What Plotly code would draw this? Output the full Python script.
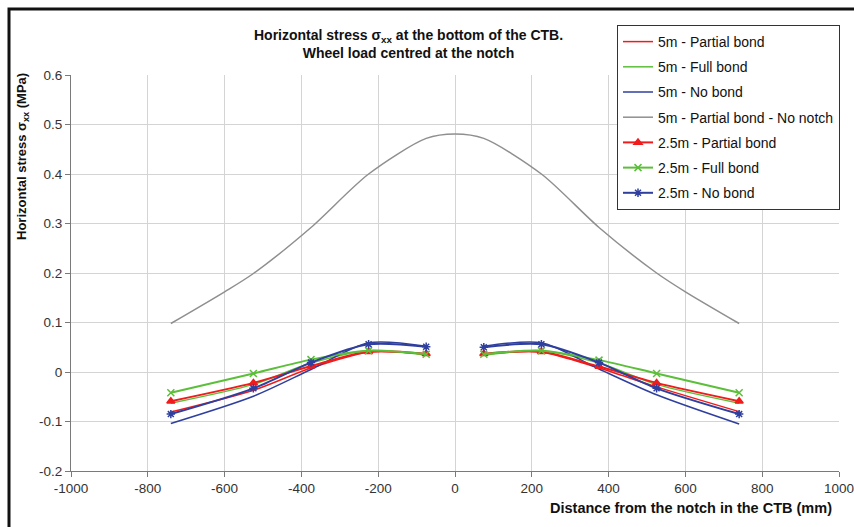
import plotly.graph_objects as go

# ---- data ----
x_pts = [-740, -525, -375, -225, -75, None, 75, 225, 375, 525, 740]
x_gray = [-740, -600, -525, -375, -225, -75, 0, 75, 225, 375, 525, 600, 740]

s5_partial = [-0.081, -0.037, 0.008, 0.040, 0.036, None, 0.036, 0.040, 0.008, -0.030, -0.080]
s5_full = [-0.063, -0.025, 0.018, 0.043, 0.034, None, 0.034, 0.043, 0.018, -0.025, -0.063]
s5_nobond = [-0.104, -0.049, 0.005, 0.059, 0.052, None, 0.052, 0.059, 0.006, -0.046, -0.105]
s5_nonotch = [0.098, 0.162, 0.199, 0.292, 0.400, 0.472, 0.481, 0.472, 0.400, 0.292, 0.200, 0.162, 0.098]
s25_partial = [-0.059, -0.022, 0.012, 0.041, 0.037, None, 0.037, 0.041, 0.011, -0.022, -0.059]
s25_full = [-0.042, -0.003, 0.025, 0.043, 0.036, None, 0.036, 0.043, 0.024, -0.003, -0.042]
s25_nobond = [-0.085, -0.033, 0.019, 0.056, 0.051, None, 0.050, 0.056, 0.019, -0.033, -0.085]

x_ticks = [-1000, -800, -600, -400, -200, 0, 200, 400, 600, 800, 1000]
y_ticks = [-0.2, -0.1, 0, 0.1, 0.2, 0.3, 0.4, 0.5, 0.6]
y_tick_text = ["-0.2", "-0.1", "0", "0.1", "0.2", "0.3", "0.4", "0.5", "0.6"]

RED = "#f01c1c"
GREEN = "#5cbf3a"
BLUE = "#2f3f9e"
GRAY = "#8f8f8f"
FONT = "Liberation Sans, Arial, sans-serif"

fig = go.Figure()

def add(name, x, y, color, width, symbol=None, size=7):
    mode = "lines+markers" if symbol else "lines"
    kw = {}
    if symbol:
        kw["marker"] = dict(symbol=symbol, size=size, color=color,
                            line=dict(color=color, width=1.5))
    fig.add_trace(go.Scatter(
        x=x, y=y, name=name, mode=mode,
        line=dict(color=color, width=width, shape="spline", smoothing=0.8),
        connectgaps=False, legendgroup=name, **kw))

add("5m - Partial bond", x_pts, s5_partial, RED, 1.5)
add("5m - Full bond", x_pts, s5_full, GREEN, 1.5)
add("5m - No bond", x_pts, s5_nobond, BLUE, 1.5)
add("5m - Partial bond - No notch", x_gray, s5_nonotch, GRAY, 1.5)
add("2.5m - Partial bond", x_pts, s25_partial, RED, 2, "triangle-up", 7)
add("2.5m - Full bond", x_pts, s25_full, GREEN, 2, "x-thin-open", 7)
add("2.5m - No bond", x_pts, s25_nobond, BLUE, 2, "asterisk-open", 7)

L, R, T, B = 71, 15, 75, 56
W, H = 854, 527
pw, ph = W - L - R, H - T - B

def px(xp):
    return (xp - L) / pw

def py(yp):
    return (H - B - yp) / ph

fig.update_layout(
    width=W, height=H,
    margin=dict(l=L, r=R, t=T, b=B, pad=0, autoexpand=False),
    paper_bgcolor="white", plot_bgcolor="white",
    font=dict(family=FONT, size=13, color="#222222"),
    showlegend=True,
    legend=dict(x=px(617), y=py(25), xanchor="left", yanchor="top",
                bgcolor="white", bordercolor="#333333", borderwidth=1,
                font=dict(family=FONT, size=14, color="#111111"),
                tracegroupgap=4, itemwidth=30),
    xaxis=dict(range=[-1000, 1000], tickvals=x_ticks, ticktext=[str(v) for v in x_ticks],
               showgrid=True, gridcolor="#d4d4d4", gridwidth=1,
               showline=True, linecolor="#7a7a7a", linewidth=1,
               ticks="outside", ticklen=5, tickcolor="#7a7a7a",
               ticklabeloverflow="allow",
               zeroline=False, tickfont=dict(size=13.5, color="#333333")),
    yaxis=dict(range=[-0.2, 0.6], tickvals=y_ticks, ticktext=y_tick_text,
               showgrid=True, gridcolor="#d4d4d4", gridwidth=1,
               showline=True, linecolor="#7a7a7a", linewidth=1,
               ticks="outside", ticklen=5, tickcolor="#7a7a7a",
               zeroline=False, tickfont=dict(size=13.5, color="#333333")),
)

fig.add_annotation(
    text="<b>Horizontal stress σ<sub>xx</sub> at the bottom of the CTB.</b><br><b>Wheel load centred at the notch</b>",
    xref="paper", yref="paper", x=px(408), y=py(44), xanchor="center", yanchor="middle",
    showarrow=False, font=dict(family=FONT, size=14, color="#111111"))

fig.add_annotation(
    text="<b>Horizontal stress σ<sub>xx</sub> (MPa)</b>",
    xref="paper", yref="paper", x=px(22), y=py(157), xanchor="center", yanchor="middle",
    textangle=-90, showarrow=False, font=dict(family=FONT, size=13, color="#111111"))

fig.add_annotation(
    text="<b>Distance from the notch in the CTB (mm)</b>",
    xref="paper", yref="paper", x=px(834), y=py(508), xanchor="right", yanchor="middle",
    showarrow=False, font=dict(family=FONT, size=14.5, color="#111111"))

# outer frame (cropped at right/bottom in the reference)
fig.add_shape(type="rect", xref="paper", yref="paper",
              x0=px(9), x1=px(880), y0=py(560), y1=py(9),
              line=dict(color="#111111", width=3), fillcolor="rgba(0,0,0,0)", layer="above")

fig.write_html(
    "out.html",
    config={"displayModeBar": False},
    post_script="document.body.style.margin='0';document.body.style.overflow='hidden';",
)
